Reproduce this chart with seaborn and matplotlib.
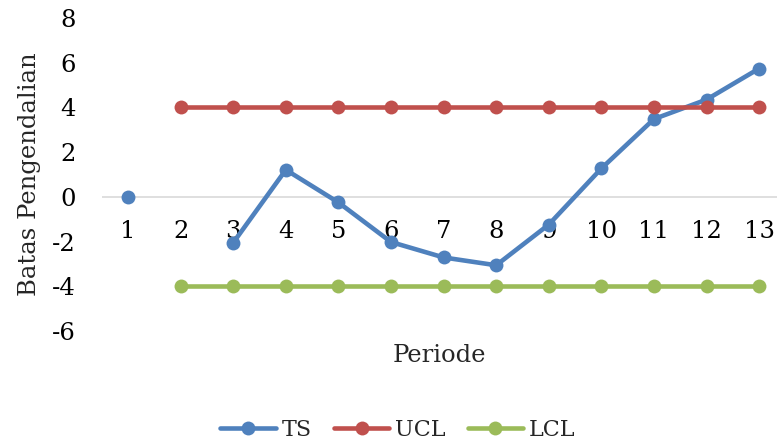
import numpy as np
import pandas as pd
import matplotlib
matplotlib.use("Agg")
import matplotlib.pyplot as plt
import seaborn as sns

# data
periode = list(range(1, 14))
ts = [0, np.nan, -2.05, 1.21, -0.25, -2.02, -2.71, -3.06, -1.24, 1.27, 3.48, 4.35, 5.74]
ucl = [np.nan] + [4] * 12
lcl = [np.nan] + [-4] * 12

series_names = ["TS", "UCL", "LCL"]
colors = {"TS": "#4F81BD", "UCL": "#C0504D", "LCL": "#9BBB59"}

sns.set_theme(style="white")
plt.rcParams["font.family"] = ["DejaVu Serif"]
plt.rcParams["axes.unicode_minus"] = False

rows = []
for name, vals in zip(series_names, [ts, ucl, lcl]):
    v = np.array(vals, dtype=float)
    seg = np.cumsum(np.isnan(v))  # split where values are missing
    for p, y, s in zip(periode, v, seg):
        if not np.isnan(y):
            rows.append({"Periode": p, "nilai": y, "seri": name, "seg": f"{name}{s}"})
df = pd.DataFrame(rows)

fig = plt.figure(figsize=(7.77, 4.43), dpi=100)
ax = fig.add_axes([0.131, 0.2528, 0.869, 0.7066])

ax.axhline(0, color="#D9D9D9", lw=1.2, zorder=0)

sns.lineplot(data=df, x="Periode", y="nilai", hue="seri", units="seg",
             estimator=None, palette=colors, hue_order=series_names,
             marker="o", markersize=10, markeredgewidth=0, linewidth=3.3,
             ax=ax, legend=False)

ax.set_xlim(0.5, 13.34)
ax.set_ylim(-6, 8)
ax.set_yticks(range(-6, 9, 2))
ax.set_xticks(periode)
ax.set_xticklabels([str(p) for p in periode])
ax.spines["bottom"].set_position(("data", 0))
for s in ax.spines.values():
    s.set_visible(False)
ax.tick_params(axis="both", length=0, labelsize=17.5, colors="black")
ax.tick_params(axis="y", pad=19)
ax.tick_params(axis="x", pad=17)

ax.set_xlabel("Periode", fontsize=17.5, va="center")
ax.xaxis.set_label_coords(0.5, -0.077)
ax.set_ylabel("Batas Pengendalian", fontsize=17.5, va="center")
ax.yaxis.set_label_coords(-0.107, 0.5)

handles = [plt.Line2D([], [], color=colors[n], lw=3.3, marker="o", markersize=10,
                      markeredgewidth=0) for n in series_names]
fig.legend(handles, series_names, loc="center", bbox_to_anchor=(0.512, 0.029),
           ncol=3, frameon=False, fontsize=16, handlelength=2.5,
           handletextpad=0.25, columnspacing=1.0)

fig.savefig("out.png", dpi=100)
